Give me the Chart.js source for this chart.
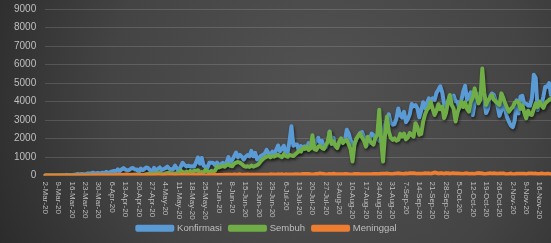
<!DOCTYPE html>
<html>
<head>
<meta charset="utf-8">
<script src="https://cdn.jsdelivr.net/npm/chart.js@4/dist/chart.umd.min.js"></script>
<style>
  html, body { margin: 0; padding: 0; background: #3a3a3a; }
  #wrap { width: 551px; height: 243px; }
</style>
</head>
<body>
<div id="wrap"><canvas id="c" width="551" height="243"></canvas></div>
<script>
// daily series, 2-Mar-20 .. 22-Nov-20
const startDate = new Date(2020, 2, 2);
const dayCount = 266;
const monthNames = ['Jan','Feb','Mar','Apr','May','Jun','Jul','Aug','Sep','Oct','Nov','Dec'];

const dates = [];
for (let i = 0; i < dayCount; i++) {
    const d = new Date(startDate.getFullYear(), startDate.getMonth(), startDate.getDate() + i);
    dates.push(d.getDate() + '-' + monthNames[d.getMonth()] + '-20');
}

const konfirmasi = [
    // Mar
    2,0,0,0,2,0,2,13,8,7, 7,35,27,21,17,38,55,82,60,81, 64,65,107,104,103,153,109,130,129,114,
    // Apr
    149,113,196,106,181,218,247,218,337,219, 330,399,316,282,297,380,407,325,327,185, 375,283,357,436,396,275,214,415,260,347,
    // May
    433,292,349,395,484,367,338,336,533,387, 233,484,689,568,490,529,489,496,486,693, 973,634,949,526,479,415,686,687,678,557, 700,
    // Jun
    467,609,684,585,703,993,672,847,1043,1241, 979,1111,1014,857,1017,1106,1031,1331,1041,1226, 862,954,1051,1113,1178,1385,1198,1082,1293,1082,
    // Jul
    1385,1624,1301,1447,1607,1209,1268,1853,2657,1611, 1671,1681,1282,1591,1522,1574,1462,1752,1639,1693, 1655,1882,2040,1761,1868,1492,1525,1748,2381,1904, 2040,
    // Aug
    1560,1519,1679,1922,1815,1882,2473,2277,1893,1687, 1693,1942,2098,2307,2345,2081,1821,1673,1902,2266, 2197,2090,2037,1877,2447,2306,2719,3003,3308,2858, 2743,
    // Sep
    2775,3075,3622,3269,3128,3444,2880,3046,3307,3861, 3737,3806,3636,3141,3507,3963,3635,3891,4168,3989, 4176,4071,4465,4634,4823,4494,3874,3509,4002,4284,
    // Oct
    4174,4317,4007,3992,3622,4056,4538,4850,4094,4294, 4497,3267,3906,4127,4411,4301,4301,4105,3373,3602, 4267,4432,4369,4070,3732,3222,3520,4029,3565,3143, 2897,
    // Nov
    2696,2618,2973,4065,3356,4262,4303,3880,3880,3779, 3770,4173,5444,5272,3535,3807,3807,4265,4798,4792, 4998,4360
];

const sembuh = [
    // Mar
    0,0,0,0,0,0,0,0,0,0, 0,2,1,2,3,3,3,3,3,2, 1,1,0,1,7,5,4,7,0,8,
    // Apr
    22,5,9,14,12,2,17,28,27,22, 11,22,49,21,32,42,45,43,33,44, 49,30,40,71,84,95,81,44,133,119,
    // May
    131,77,66,115,133,143,121,123,79,140, 111,255,196,135,212,124,244,144,263,260, 282,137,186,148,324,232,172,246,210,257, 477,
    // Jun
    430,480,520,470,560,610,520,500,640,700, 730,690,620,520,470,500,460,540,480,520, 560,640,780,880,960,1010,1060,980,1050,1020,
    // Jul
    1080,1120,1040,990,1150,1060,1010,1120,1080,1050, 1150,1230,1350,1290,1480,1430,1560,1380,1460,2180, 1420,1380,1560,1610,1490,1430,1650,1820,2370,1700, 1850,
    // Aug
    1620,1480,1830,2010,1750,1880,1930,1690,1420,760, 1650,1980,2150,2280,2050,1880,1560,2100,1890,1750, 1670,2050,2200,3550,1900,750,2150,3170,2400,2050, 1930,
    // Sep
    2010,1880,1930,2250,2100,2260,1950,2050,2300,2180, 2100,2830,2630,2200,2250,2900,3300,3550,3680,3990, 3600,3270,3500,3850,3580,3720,3100,3380,3950,4350,
    // Oct
    3800,3600,2920,3400,3700,3990,3700,3950,3600,3450, 4000,4200,4710,4300,3900,4100,5780,4500,3810,4050, 4200,4350,4100,4000,3900,3810,4440,4200,3900,3650, 3450,
    // Nov
    3600,3700,3950,4000,3990,3600,3800,3400,3090,3500, 3300,3270,3600,3900,3700,3990,3800,3650,3900,4000, 4080,4150
];

const meninggal = [
    // Mar
    0,0,0,0,0,0,0,0,0,0, 1,0,3,1,0,0,2,14,7,6, 13,10,1,6,3,20,9,15,12,8,
    // Apr
    21,13,11,7,10,12,11,19,40,26, 26,46,26,60,40,27,26,47,35,8, 26,19,12,26,27,12,12,22,8,44,
    // May
    12,8,31,21,13,29,23,24,27,10, 14,26,21,26,24,21,16,43,22,21, 36,35,31,19,2,21,23,24,23,40, 21,
    // Jun
    31,30,29,38,36,40,40,32,55,36, 41,65,34,43,44,49,45,36,46,41, 35,46,35,45,37,41,41,62,51,58,
    // Jul
    46,64,55,66,36,61,58,58,51,55, 70,71,50,54,87,81,84,84,63,56, 68,88,82,118,90,85,60,67,86,74, 94,
    // Aug
    76,66,66,66,62,83,80,62,60,59, 79,79,79,65,62,69,71,71,70,69, 82,79,86,65,94,99,98,105,92,82, 74,
    // Sep
    100,102,120,89,88,78,105,99,124,124, 126,105,97,94,91,101,122,106,118,91, 128,160,140,96,128,116,87,128,123,95,
    // Oct
    116,122,111,106,102,101,87,108,116,85, 98,93,86,116,129,127,114,63,87,103, 128,100,117,112,100,104,105,115,84,63, 89,
    // Nov
    106,66,66,96,90,101,94,100,74,105, 107,104,96,104,78,87,110,94,81,101, 89,64
];

const yTicks = [0, 1000, 2000, 3000, 4000, 5000, 6000, 7000, 8000, 9000];
const labelEvery = 7;   // one date label per week

const textColor = '#bfbfbf';
const gridColor = 'rgba(255,255,255,0.14)';

// dark radial backdrop, like the office theme
const bgPlugin = {
    id: 'bg',
    beforeDraw(chart) {
        const ctx = chart.ctx;
        const g = ctx.createRadialGradient(320, 95, 0, 320, 95, 380);
        g.addColorStop(0, '#525252');
        g.addColorStop(0.55, '#444444');
        g.addColorStop(1, '#272727');
        ctx.save();
        ctx.fillStyle = g;
        ctx.fillRect(0, 0, chart.width, chart.height);
        ctx.restore();
    }
};

// soft drop shadow under every line
const shadowPlugin = {
    id: 'lineShadow',
    beforeDatasetDraw(chart) {
        const ctx = chart.ctx;
        ctx.save();
        ctx.shadowColor = 'rgba(0,0,0,0.55)';
        ctx.shadowBlur = 3;
        ctx.shadowOffsetX = 1;
        ctx.shadowOffsetY = 2;
    },
    afterDatasetDraw(chart) {
        chart.ctx.restore();
    }
};

// legend in the original sits a little left of centre
const legendShift = {
    id: 'legendShift',
    afterLayout(chart) {
        if (chart.legend) {
            chart.legend.left -= 11;
            chart.legend.right -= 11;
        }
    }
};

// date labels turned clockwise, hanging under the axis
const xLabelPlugin = {
    id: 'xLabels',
    afterDraw(chart) {
        const ctx = chart.ctx;
        const xs = chart.scales.x;
        ctx.save();
        ctx.font = '8px "Liberation Sans Narrow", "Liberation Sans", Arial, sans-serif';
        ctx.fillStyle = textColor;
        ctx.textAlign = 'left';
        ctx.textBaseline = 'middle';
        for (let i = 0; i < dates.length; i += labelEvery) {
            const x = xs.getPixelForValue(i);
            ctx.save();
            ctx.translate(x, xs.top + 6);
            ctx.rotate(Math.PI / 2);
            ctx.fillText(dates[i], 0, 0);
            ctx.restore();
        }
        ctx.restore();
    }
};

const lineStyle = { borderWidth: 4, pointRadius: 0, tension: 0, borderJoinStyle: 'round', borderCapStyle: 'round', fill: false };

new Chart(document.getElementById('c'), {
    type: 'line',
    data: {
        labels: dates,
        datasets: [
            Object.assign({ label: 'Konfirmasi', data: konfirmasi, borderColor: '#5b9bd5', backgroundColor: '#5b9bd5', order: 3 }, lineStyle),
            Object.assign({ label: 'Sembuh', data: sembuh, borderColor: '#70ad47', backgroundColor: '#70ad47', order: 2 }, lineStyle),
            Object.assign({ label: 'Meninggal', data: meninggal, borderColor: '#ed7d31', backgroundColor: '#ed7d31', order: 1 }, lineStyle)
        ]
    },
    options: {
        responsive: false,
        animation: false,
        layout: { padding: { top: 9, left: 5, right: 0, bottom: 0 } },
        scales: {
            x: {
                grid: { display: false },
                border: { display: false },
                ticks: { display: false },
                afterFit(scale) { scale.height = 40; }
            },
            y: {
                min: 0,
                max: 9000,
                afterBuildTicks(scale) { scale.ticks = yTicks.map(v => ({ value: v })); },
                afterFit(scale) { scale.paddingTop = 0; scale.paddingBottom = 0; },
                grid: { color: gridColor, lineWidth: 1, drawTicks: false },
                border: { display: false },
                ticks: {
                    color: textColor,
                    padding: 9,
                    font: { family: '"Liberation Sans", Arial, sans-serif', size: 10 },
                    callback: v => String(v)
                }
            }
        },
        plugins: {
            legend: {
                position: 'bottom',
                labels: {
                    color: textColor,
                    boxWidth: 35,
                    boxHeight: 3,
                    padding: 8,
                    font: { family: '"Liberation Sans Narrow", "Liberation Sans", Arial, sans-serif', size: 9.5 },
                    sort: (a, b) => a.datasetIndex - b.datasetIndex
                }
            },
            tooltip: { enabled: false }
        }
    },
    plugins: [bgPlugin, shadowPlugin, legendShift, xLabelPlugin]
});
</script>
</body>
</html>
